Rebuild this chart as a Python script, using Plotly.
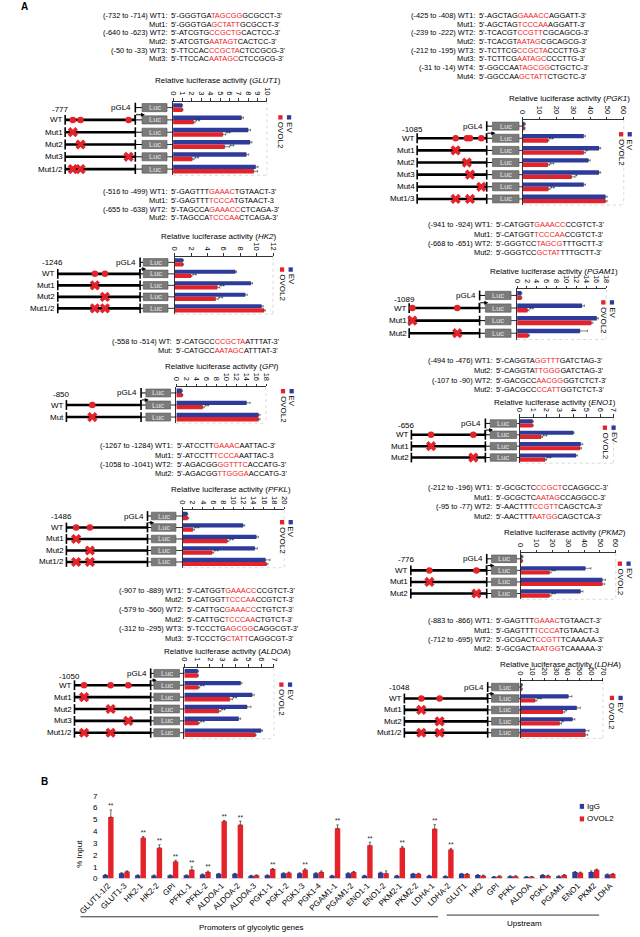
import plotly.graph_objects as go

W, H = 640, 937
BLUE = '#2D3B9B'
RED = '#E4222A'
SEQRED = '#EE1C25'
FONT = 'Liberation Sans, Arial, Helvetica, sans-serif'

# ======================= Panel A data =======================
glut1_rows = ['pGL4', 'WT', 'Mut1', 'Mut2', 'Mut3', 'Mut1/2']
glut1_ev = [0.95, 7.3, 8.0, 8.2, 7.8, 8.8]
glut1_ev_err = [0.05, 0.2, 0.25, 0.2, 0.25, 0.25]
glut1_ovol2 = [1.0, 2.2, 5.3, 5.5, 2.05, 8.6]
glut1_ovol2_err = [0.05, 0.15, 0.3, 0.5, 0.2, 0.4]
glut1_sig = ['', '**', '**', '**', '**', '']
glut1_length = 777
glut1_sites = [-692, -607, -75]
glut1_mut_sites = [[], [], [0], [1], [2], [0, 1]]
glut1_seq_labels = ['(-732 to -714) WT1:', 'Mut1:', '(-640 to -623) WT2:', 'Mut2:', '(-50 to -33) WT3:', 'Mut3:']
glut1_seqs = ["5'-GGGTGA[TAGCGG]GCGCCT-3'", "5'-GGGTGA[GCTATT]GCGCCT-3'",
              "5'-ATCGTG[CCGCTG]CACTCC-3'", "5'-ATCGTG[AATAGT]CACTCC-3'",
              "5'-TTCCAC[CCGCTA]CTCCGCG-3'", "5'-TTCCAC[AATAGC]CTCCGCG-3'"]

hk2_rows = ['pGL4', 'WT', 'Mut1', 'Mut2', 'Mut1/2']
hk2_ev = [1.0, 7.4, 9.3, 8.6, 10.6]
hk2_ev_err = [0.05, 0.15, 0.2, 0.25, 0.2]
hk2_ovol2 = [1.0, 2.0, 5.2, 5.0, 10.9]
hk2_ovol2_err = [0.05, 0.1, 0.3, 0.3, 0.15]
hk2_sig = ['', '**', '**', '**', '']
hk2_length = 1246
hk2_sites = [-685, -532]
hk2_mut_sites = [[], [], [0], [1], [0, 1]]
hk2_seq_labels = ['(-516 to -499) WT1:', 'Mut1:', '(-655 to -638) WT2:', 'Mut2:']
hk2_seqs = ["5'-GAGTTT[GAAAC]TGTAACT-3'", "5'-GAGTTT[TCCCA]TGTAACT-3",
            "5'-TAGCCA[GAAACC]CTCAGA-3'", "5'-TAGCCA[TCCCAA]CTCAGA-3'"]

gpi_rows = ['pGL4', 'WT', 'Mut']
gpi_ev = [1.1, 14.1, 16.5]
gpi_ev_err = [0.1, 0.7, 0.3]
gpi_ovol2 = [1.2, 5.3, 16.5]
gpi_ovol2_err = [0.1, 0.3, 0.3]
gpi_sig = ['', '**', '']
gpi_length = 850
gpi_sites = [-555]
gpi_mut_sites = [[], [], [0]]
gpi_seq_labels = ['(-558 to -514) WT:', 'Mut:']
gpi_seqs = ["5'-CATGCC[CCGCTA]ATTTAT-3'", "5'-CATGCC[AATAGC]ATTTAT-3'"]

pfkl_rows = ['pGL4', 'WT', 'Mut1', 'Mut2', 'Mut1/2']
pfkl_ev = [0.9, 11.9, 14.5, 14.2, 16.3]
pfkl_ev_err = [0.1, 0.3, 0.4, 0.5, 0.9]
pfkl_ovol2 = [1.0, 2.0, 8.8, 5.8, 16.5]
pfkl_ovol2_err = [0.2, 0.3, 0.3, 0.3, 0.3]
pfkl_sig = ['', '**', '**', '**', '']
pfkl_length = 1486
pfkl_sites = [-1308, -1056]
pfkl_mut_sites = [[], [], [0], [1], [0, 1]]
pfkl_seq_labels = ['(-1267 to -1284) WT1:', 'Mut1:', '(-1058 to -1041) WT2:', 'Mut2:']
pfkl_seqs = ["5'-ATCCTT[GAAAC]AATTAC-3'", "5'-ATCCTT[TCCCA]AATTAC-3",
             "5'-AGACGG[GGTTTC]ACCATG-3'", "5'-AGACGG[TTGGGA]ACCATG-3'"]

aldoa_rows = ['pGL4', 'WT', 'Mut1', 'Mut2', 'Mut3', 'Mut1/2']
aldoa_ev = [1.05, 4.4, 5.3, 4.9, 4.25, 6.0]
aldoa_ev_err = [0.05, 0.1, 0.15, 0.3, 0.15, 0.1]
aldoa_ovol2 = [1.05, 1.1, 3.55, 2.7, 1.1, 5.55]
aldoa_ovol2_err = [0.05, 0.1, 0.2, 0.15, 0.1, 0.05]
aldoa_sig = ['', '**', '**', '**', '**', '']
aldoa_length = 1050
aldoa_sites = [-918, -552, -309]
aldoa_mut_sites = [[], [], [0], [1], [2], [0, 1]]
aldoa_seq_labels = ['(-907 to -889) WT1:', 'Mut2:', '(-579 to -560) WT2:', 'Mut2:', '(-312 to -295) WT3:', 'Mut3:']
aldoa_seqs = ["5'-CATGGT[GAAACC]CCGTCT-3'", "5'-CATGGT[TCCCAA]CCGTCT-3'",
              "5'-CATTGC[GAAACC]CTGTCT-3'", "5'-CATTGC[TCCCAA]CTGTCT-3'",
              "5'-TCCCTG[AGCGG]CAGGCGT-3'", "5'-TCCCTG[CTATT]CAGGCGT-3'"]

pgk1_rows = ['pGL4', 'WT', 'Mut1', 'Mut2', 'Mut3', 'Mut4', 'Mut1/3']
pgk1_ev = [1.0, 36.2, 45.3, 39.0, 45.3, 36.2, 49.1]
pgk1_ev_err = [0.5, 1.0, 1.0, 1.0, 1.0, 1.0, 1.0]
pgk1_ovol2 = [1.0, 14.9, 36.2, 14.9, 29.0, 15.2, 49.1]
pgk1_ovol2_err = [0.3, 0.5, 1.0, 1.0, 2.0, 1.0, 1.0]
pgk1_sig = ['', '**', '*', '**', '*', '**', '']
pgk1_length = 1085
pgk1_sites = [-485, -310, -261, -85]
pgk1_mut_sites = [[], [], [0], [1], [2], [3], [0, 2]]
pgk1_seq_labels = ['(-425 to -408) WT1:', 'Mut1:', '(-239 to -222) WT2:', 'Mut2:',
                   '(-212 to -195) WT3:', 'Mut3:', '(-31 to -14) WT4:', 'Mut4:']
pgk1_seqs = ["5'-AGCTAG[GAAACC]AGGATT-3'", "5'-AGCTAG[TCCCAA]AGGATT-3'",
             "5'-TCACGT[CCGTT]CGCAGCG-3'", "5'-TCACGT[AATAG]CGCAGCG-3'",
             "5'-TCTTCG[CCGCTA]CCCTTG-3'", "5'-TCTTCG[AATAGC]CCCTTG-3'",
             "5'-GGCCAA[TAGCGG]CTGCTC-3'", "5'-GGCCAA[GCTATT]CTGCTC-3'"]

pgam1_rows = ['pGL4', 'WT', 'Mut1', 'Mut2']
pgam1_ev = [0.85, 13.1, 16.1, 12.7]
pgam1_ev_err = [0.1, 0.5, 0.3, 1.5]
pgam1_ovol2 = [0.85, 2.1, 15.0, 2.3]
pgam1_ovol2_err = [0.1, 0.3, 0.3, 0.2]
pgam1_sig = ['', '**', '', '']
pgam1_length = 1089
pgam1_sites = [-1040, -346]
pgam1_mut_sites = [[], [], [0], [1]]
pgam1_seq_labels = ['(-941 to -924) WT1:', 'Mut1:', '(-668 to -651) WT2:', 'Mut2:']
pgam1_seqs = ["5'-CATGGT[GAAACC]CCGTCT-3'", "5'-CATGGT[TCCCAA]CCGTCT-3'",
              "5'-GGGTCC[TAGCG]TTTGCTT-3'", "5'-GGGTCC[GCTAT]TTTGCTT-3'"]

eno1_rows = ['pGL4', 'WT', 'Mut1', 'Mut2']
eno1_ev = [0.96, 4.0, 4.55, 4.2]
eno1_ev_err = [0.05, 0.05, 0.15, 0.1]
eno1_ovol2 = [0.96, 1.6, 4.5, 1.9]
eno1_ovol2_err = [0.05, 0.1, 0.1, 0.1]
eno1_sig = ['', '**', '', '**']
eno1_length = 656
eno1_sites = [-482, -107]
eno1_mut_sites = [[], [], [0], [1]]
eno1_seq_labels = ['(-494 to -476) WT1:', 'Mut2:', '(-107 to -90) WT2:', 'Mut2:']
eno1_seqs = ["5'-CAGGTA[GGTTT]GATCTAG-3'", "5'-CAGGTA[TTGGG]GATCTAG-3'",
             "5'-GACGCC[AACGG]GGTCTCT-3'", "5'-GACGCC[CCATT]GGTCTCT-3'"]

pkm2_rows = ['pGL4', 'WT', 'Mut1', 'Mut2']
pkm2_ev = [1.0, 40.8, 51.5, 37.8]
pkm2_ev_err = [0.5, 3.5, 2.0, 1.5]
pkm2_ovol2 = [1.0, 18.2, 51.5, 18.2]
pkm2_ovol2_err = [0.3, 1.0, 1.5, 1.0]
pkm2_sig = ['', '**', '', '**']
pkm2_length = 776
pkm2_sites = [-586, -105]
pkm2_mut_sites = [[], [], [0], [1]]
pkm2_seq_labels = ['(-212 to -196) WT1:', 'Mut1:', '(-95 to -77) WT2:', 'Mut2:']
pkm2_seqs = ["5'-GCGCTC[CCGCT]CCAGGCC-3'", "5'-GCGCTC[AATAG]CCAGGCC-3'",
             "5'-AACTTT[CCGTT]CAGCTCA-3'", "5'-AACTTT[AATGG]CAGCTCA-3'"]

ldha_rows = ['pGL4', 'WT', 'Mut1', 'Mut2', 'Mut1/2']
ldha_ev = [1.0, 40.6, 47.7, 44.1, 55.0]
ldha_ev_err = [0.5, 3.0, 3.0, 2.0, 3.0]
ldha_ovol2 = [1.0, 12.3, 36.0, 33.2, 55.0]
ldha_ovol2_err = [0.3, 1.5, 1.5, 1.5, 2.0]
ldha_sig = ['', '**', '*', '*', '']
ldha_length = 1048
ldha_sites = [-835, -605]
ldha_mut_sites = [[], [], [0], [1], [0, 1]]
ldha_seq_labels = ['(-883 to -866) WT1:', 'Mut1:', '(-712 to -695) WT2:', 'Mut2:']
ldha_seqs = ["5'-GAGTTT[GAAAC]TGTAACT-3'", "5'-GAGTTT[TCCCA]TGTAACT-3",
             "5'-GCGACT[CCGTT]TCAAAAA-3'", "5'-GCGACT[AATGG]TCAAAAA-3'"]

# axis scales of each luciferase chart (max, tick step)
gene_names = ['GLUT1', 'HK2', 'GPI', 'PFKL', 'ALDOA', 'PGK1', 'PGAM1', 'ENO1', 'PKM2', 'LDHA']
axis_max = [10, 12, 18, 20, 7, 60, 18, 7, 60, 70]
axis_step = [1, 2, 2, 2, 1, 10, 2, 1, 10, 10]

# ======================= Panel B data =======================
b_categories = ['GLUT1-1/2', 'GLUT1-3', 'HK2-1', 'HK2-2', 'GPI', 'PFKL-1', 'PFKL-2',
                'ALDOA-1', 'ALDOA-2', 'ALDOA-3', 'PGK1-1', 'PGK1-2', 'PGK1-3', 'PGK1-4',
                'PGAM1-1', 'PGAM1-2', 'ENO1-1', 'ENO1-2', 'PKM2-1', 'PKM2-2', 'LDHA-1', 'LDHA-2',
                'GLUT1', 'HK2', 'GPI', 'PFKL', 'ALDOA', 'PGK1', 'PGAM1', 'ENO1', 'PKM2', 'LDHA']
b_igg = [0.3, 0.45, 0.28, 0.27, 0.28, 0.28, 0.35, 0.4, 0.4, 0.25, 0.28, 0.45, 0.45, 0.45,
         0.25, 0.45, 0.25, 0.5, 0.25, 0.4, 0.25, 0.2,
         0.4, 0.3, 0.15, 0.2, 0.15, 0.3, 0.2, 0.55, 0.55, 0.35]
b_igg_err = [0.05, 0.04, 0.03, 0.03, 0.03, 0.03, 0.04, 0.04, 0.04, 0.03, 0.03, 0.04, 0.04, 0.04,
             0.03, 0.04, 0.03, 0.05, 0.03, 0.04, 0.03, 0.03,
             0.04, 0.03, 0.03, 0.03, 0.02, 0.03, 0.03, 0.05, 0.1, 0.04]
b_ovol2 = [5.2, 0.6, 3.45, 2.6, 1.45, 0.75, 0.55, 4.85, 4.55, 0.28, 0.8, 0.5, 0.75, 0.55,
           4.25, 0.55, 2.82, 0.45, 2.6, 0.4, 4.2, 2.45,
           0.38, 0.25, 0.2, 0.2, 0.15, 0.25, 0.3, 0.5, 0.75, 0.38]
b_ovol2_err = [0.6, 0.05, 0.1, 0.25, 0.1, 0.25, 0.08, 0.05, 0.3, 0.03, 0.05, 0.05, 0.08, 0.1,
               0.28, 0.05, 0.25, 0.2, 0.12, 0.05, 0.35, 0.1,
               0.05, 0.04, 0.04, 0.04, 0.03, 0.04, 0.05, 0.05, 0.05, 0.05]
b_sig = ['**', '', '**', '**', '**', '**', '**', '**', '**', '', '**', '', '**', '',
         '**', '', '**', '', '**', '', '**', '**',
         '', '', '', '', '', '', '', '', '', '']
b_group_labels = ['Promoters of glycolytic genes', 'Upstream']

# ======================= layout (pixel positions) =======================
panel_layout = [
    dict(top=102, last=170, prom=(47, 120), luc=(127, 153), bar=(159.3, 257), title=(206.5, 81),
         seq_x=156, seq_y0=15.7, seq_dy=8.72, leg=(280, 118), len_dy=0.15),
    dict(top=258, last=310, prom=(39.3, 125), luc=(128.3, 154), bar=(161, 263.3), title=(207, 237.7),
         seq_x=156, seq_y0=192.7, seq_dy=8.75, leg=(281.7, 271), len_dy=0.0),
    dict(top=389, last=419.3, prom=(48.3, 126), luc=(131, 156.7), bar=(162.7, 256), title=(210, 368.3),
         seq_x=161, seq_y0=343, seq_dy=9.3, leg=(282.7, 393.3), len_dy=0.15),
    dict(top=513, last=565, prom=(48.3, 132.7), luc=(136.7, 162.3), bar=(169.3, 275), title=(220, 492.3),
         seq_x=162, seq_y0=448.3, seq_dy=9.2, leg=(281.7, 525), len_dy=0.0),
    dict(top=671, last=736.7, prom=(56.7, 136), luc=(139.3, 166), bar=(171, 264.3), title=(216.3, 655),
         seq_x=172.5, seq_y0=593.5, seq_dy=9.7, leg=(281, 688.3), len_dy=0.3),
    dict(top=120.7, last=200, prom=(413.3, 485.7), luc=(491.7, 519.3), bar=(523.3, 628.3), title=(571.8, 99),
         seq_x=476, seq_y0=15.7, seq_dy=8.72, leg=(634.5, 135), len_dy=0.3),
    dict(top=290.7, last=335, prom=(405, 478.3), luc=(484.3, 511), bar=(517.3, 610), title=(555.5, 273.3),
         seq_x=493.5, seq_y0=226, seq_dy=9.3, leg=(616, 304), len_dy=0.35),
    dict(top=420, last=460, prom=(407.3, 484.3), luc=(489.3, 516.7), bar=(520, 617.7), title=(556.8, 404.3),
         seq_x=493.5, seq_y0=362.7, seq_dy=9.7, leg=(617.7, 430), len_dy=0.2),
    dict(top=556, last=596.7, prom=(406.7, 485.7), luc=(490.7, 516.7), bar=(521, 620), title=(567.5, 535.7),
         seq_x=493.5, seq_y0=490.5, seq_dy=9.5, leg=(633.3, 566.7), len_dy=0.1),
    dict(top=685, last=736.7, prom=(400, 486.7), luc=(490.7, 519.3), bar=(521, 606.7), title=(562.5, 667.7),
         seq_x=493.5, seq_y0=624, seq_dy=9.4, leg=(625, 701.7), len_dy=0.0),
]

panels_data = []
for g in ['glut1', 'hk2', 'gpi', 'pfkl', 'aldoa', 'pgk1', 'pgam1', 'eno1', 'pkm2', 'ldha']:
    G = globals()
    panels_data.append(dict(
        rows=G[g + '_rows'], ev=G[g + '_ev'], ev_err=G[g + '_ev_err'],
        ov=G[g + '_ovol2'], ov_err=G[g + '_ovol2_err'], sig=G[g + '_sig'],
        length=G[g + '_length'], sites=G[g + '_sites'], mut=G[g + '_mut_sites'],
        seq_labels=G[g + '_seq_labels'], seqs=G[g + '_seqs']))


def px(v):
    return v / W


def py(v):
    return 1 - v / H


def colorize(s):
    return s.replace('[', "<span style='color:%s'>" % SEQRED).replace(']', '</span>')


fig = go.Figure()
annotations = []
shapes = []
axes = {}


def ann(x, y, text, xref='paper', yref='paper', size=7.5, color='black', xanchor='center',
        yanchor='middle', angle=0):
    annotations.append(dict(x=x, y=y, xref=xref, yref=yref, text=text, showarrow=False,
                            font=dict(size=size, color=color, family=FONT),
                            xanchor=xanchor, yanchor=yanchor, textangle=angle, borderpad=0))


BW = 0.36
for i, (d, c) in enumerate(zip(panels_data, panel_layout)):
    xb, xs, yy = 'x%d' % (2 * i + 1), 'x%d' % (2 * i + 2), 'y%d' % (i + 1)
    rows = d['rows']
    n = len(rows)
    idx = list(range(n))
    sp = (c['last'] - c['top']) / (n - 0.5)
    ybot = c['last'] + 0.5 * sp

    axes['xaxis%d' % (2 * i + 1)] = dict(
        domain=[px(c['bar'][0]), px(c['bar'][1])], range=[0, axis_max[i]], dtick=axis_step[i],
        side='top', anchor=yy, showline=True, linecolor='black', linewidth=0.8,
        ticks='outside', ticklen=2.5, tickwidth=0.8, tickcolor='black', tickangle=90,
        tickfont=dict(size=7.5, family=FONT, color='black'), showgrid=False, zeroline=False,
        fixedrange=True)
    axes['xaxis%d' % (2 * i + 2)] = dict(
        domain=[px(c['prom'][0]), px(c['prom'][1])], range=[-d['length'], 0], anchor=yy,
        visible=False, fixedrange=True)
    axes['yaxis%d' % (i + 1)] = dict(
        domain=[py(ybot), py(c['top'])], range=[n - 0.5, -0.5], anchor=xb, showline=True,
        linecolor='black', linewidth=0.8, showticklabels=False, ticks='', showgrid=False,
        zeroline=False, fixedrange=True)

    # bars
    fig.add_trace(go.Bar(x=d['ev'], y=idx, orientation='h', xaxis=xb, yaxis=yy, width=BW, offset=-BW,
                         marker=dict(color=BLUE, line=dict(width=0)), showlegend=False, hoverinfo='skip',
                         error_x=dict(type='data', array=d['ev_err'], arrayminus=[0] * n, symmetric=False,
                                      color='#333', thickness=0.6, width=1.2)))
    fig.add_trace(go.Bar(x=d['ov'], y=idx, orientation='h', xaxis=xb, yaxis=yy, width=BW, offset=0,
                         marker=dict(color=RED, line=dict(width=0)), showlegend=False, hoverinfo='skip',
                         error_x=dict(type='data', array=d['ov_err'], arrayminus=[0] * n, symmetric=False,
                                      color='#333', thickness=0.6, width=1.2)))
    sx = [o + e for o, e, s in zip(d['ov'], d['ov_err'], d['sig']) if s]
    sy = [r + 0.2 for r, s in zip(idx, d['sig']) if s]
    st = [s for s in d['sig'] if s]
    fig.add_trace(go.Scatter(x=sx, y=sy, mode='text', text=st, textposition='middle right',
                             textfont=dict(size=6.5, color='#222', family=FONT), xaxis=xb, yaxis=yy,
                             cliponaxis=False, showlegend=False, hoverinfo='skip'))
    # faint dotted plot border (right & bottom)
    shapes.append(dict(type='line', xref='paper', yref='paper', x0=px(c['bar'][1]), x1=px(c['bar'][1]),
                       y0=py(c['top']), y1=py(ybot), line=dict(color='#c8c8c8', width=0.7, dash='dot')))
    shapes.append(dict(type='line', xref='paper', yref='paper', x0=px(c['bar'][0]), x1=px(c['bar'][1]),
                       y0=py(ybot), y1=py(ybot), line=dict(color='#c8c8c8', width=0.7, dash='dot')))

    # promoter schematic
    L = d['length']
    lx, ly = [], []
    for r in idx[1:]:
        lx += [-L, 0, None]
        ly += [r, r, None]
    fig.add_trace(go.Scatter(x=lx, y=ly, mode='lines', line=dict(color='black', width=2.6),
                             xaxis=xs, yaxis=yy, cliponaxis=False, showlegend=False, hoverinfo='skip'))
    tx = [-L for r in idx[1:]] + [0 for r in idx]
    ty = [r for r in idx[1:]] + [r for r in idx]
    fig.add_trace(go.Scatter(x=tx, y=ty, mode='markers',
                             marker=dict(symbol='line-ns', size=7, line=dict(color='black', width=1.6)),
                             xaxis=xs, yaxis=yy, cliponaxis=False, showlegend=False, hoverinfo='skip'))
    # binding sites (WT) and mutated sites
    fig.add_trace(go.Scatter(x=d['sites'], y=[1] * len(d['sites']), mode='markers',
                             marker=dict(symbol='circle', size=6.5, color=RED, line=dict(width=0)),
                             xaxis=xs, yaxis=yy, cliponaxis=False, showlegend=False, hoverinfo='skip'))
    mx, my = [], []
    for r, ms in zip(idx, d['mut']):
        for k in ms:
            mx.append(d['sites'][k])
            my.append(r)
    fig.add_trace(go.Scatter(x=mx, y=my, mode='markers',
                             marker=dict(symbol='x', size=9, color=RED, line=dict(width=0)),
                             xaxis=xs, yaxis=yy, cliponaxis=False, showlegend=False, hoverinfo='skip'))

    # connectors, Luc boxes
    for r in idx:
        shapes.append(dict(type='line', xref='paper', yref=yy, x0=px(c['prom'][1]), x1=px(c['luc'][0]),
                           y0=r, y1=r, line=dict(color='black', width=1)))
        shapes.append(dict(type='line', xref='paper', yref=yy, x0=px(c['luc'][1]), x1=px(c['bar'][0]),
                           y0=r, y1=r, line=dict(color='black', width=0.8)))
        shapes.append(dict(type='rect', xref='paper', yref=yy, x0=px(c['luc'][0]), x1=px(c['luc'][1]),
                           y0=r - 0.33, y1=r + 0.33, fillcolor='#7b7b7b', line=dict(color='#505050', width=0.6)))
        ann(px((c['luc'][0] + c['luc'][1]) / 2), r, 'Luc', yref=yy, size=7.5, color='#e2e2e2')
        if r == 0:
            ann(px(c['prom'][1] - 3), r, rows[r], yref=yy, size=8, xanchor='right')
        else:
            ann(px(c['prom'][0] - 1.5), r, rows[r], yref=yy, size=8, xanchor='right')
    # TSS arrow on the WT row
    shapes.append(dict(type='line', xref='paper', yref=yy, x0=px(c['prom'][1] - 0.5), x1=px(c['prom'][1] - 0.5),
                       y0=1, y1=1 - 0.42, line=dict(color='black', width=1)))
    annotations.append(dict(x=px(c['luc'][0] + 3), y=1 - 0.42, xref='paper', yref=yy, text='',
                            showarrow=True, ax=-(c['luc'][0] + 3.5 - c['prom'][1]), ay=0, axref='pixel',
                            ayref='pixel', arrowhead=2, arrowsize=0.8, arrowwidth=1, arrowcolor='black'))
    # promoter length label
    ann(px(c['prom'][0] - 5), 0 + c['len_dy'], '-%d' % L, yref=yy, size=8)

    # title
    ann(px(c['title'][0]), py(c['title'][1]),
        'Relative luciferase activity (<i>%s</i>)' % gene_names[i], size=8)

    # rotated legend
    bx, by = c['leg']
    for cx, col, lab in [(bx, BLUE, 'EV'), (bx - 9, RED, 'OVOL2')]:
        shapes.append(dict(type='rect', xref='paper', yref='paper', x0=px(cx - 2.2), x1=px(cx + 2.2),
                           y0=py(by + 2.2), y1=py(by - 2.2), fillcolor=col, line=dict(width=0)))
        ann(px(cx + 0.3), py(by + 3.6), lab, size=8, yanchor='top', angle=90)

    # sequences
    for j, (lab, s) in enumerate(zip(d['seq_labels'], d['seqs'])):
        yv = py(c['seq_y0'] + j * c['seq_dy'])
        ann(px(c['seq_x'] - 1.5), yv, lab, size=7.4, xanchor='right')
        ann(px(c['seq_x'] + 0.5), yv, colorize(s), size=7.4, xanchor='left')

# panel letters
ann(px(4.5), py(7), '<b>A</b>', size=10)
ann(px(25), py(785.5), '<b>B</b>', size=10)

# ======================= Panel B =======================
bi = list(range(len(b_categories)))
BWB = 0.335
fig.add_trace(go.Bar(x=bi, y=b_igg, xaxis='x21', yaxis='y11', width=BWB, offset=-BWB,
                     marker=dict(color=BLUE, line=dict(width=0)), showlegend=False, hoverinfo='skip',
                     error_y=dict(type='data', array=b_igg_err, arrayminus=[0] * len(bi), symmetric=False,
                                  color='#333', thickness=0.7, width=1.2)))
fig.add_trace(go.Bar(x=bi, y=b_ovol2, xaxis='x21', yaxis='y11', width=BWB, offset=0,
                     marker=dict(color=RED, line=dict(width=0)), showlegend=False, hoverinfo='skip',
                     error_y=dict(type='data', array=b_ovol2_err, arrayminus=[0] * len(bi), symmetric=False,
                                  color='#333', thickness=0.7, width=1.2)))
bsx = [k + BWB / 2 for k, s in zip(bi, b_sig) if s]
bsy = [v + e for v, e, s in zip(b_ovol2, b_ovol2_err, b_sig) if s]
fig.add_trace(go.Scatter(x=bsx, y=bsy, mode='text', text=[s for s in b_sig if s], textposition='top center',
                         textfont=dict(size=6.5, color='#222', family=FONT), xaxis='x21', yaxis='y11',
                         cliponaxis=False, showlegend=False, hoverinfo='skip'))
axes['xaxis21'] = dict(domain=[px(81.6), px(624.2)], range=[-0.6, len(bi) - 0.4], anchor='y11',
                       tickmode='array', tickvals=bi, ticktext=b_categories, tickangle=-45,
                       tickfont=dict(size=8, family=FONT, color='black'), ticks='', showline=False,
                       showgrid=False, zeroline=False, fixedrange=True)
axes['yaxis11'] = dict(domain=[py(883.3), py(795.2)], range=[0, 7.4], dtick=1, anchor='x21',
                       tickfont=dict(size=8, family=FONT, color='black'), ticks='', showline=False,
                       showgrid=False, zeroline=False, fixedrange=True)
shapes.append(dict(type='line', xref='paper', yref='y11', x0=px(80), x1=px(622), y0=0, y1=0,
                   line=dict(color='#b0b0b0', width=0.8, dash='dot')))
ann(px(61.7), py(858), '% Input', size=8, angle=-90)
shapes.append(dict(type='line', xref='paper', yref='paper', x0=px(63), x1=px(435), y0=py(921.7), y1=py(921.7),
                   line=dict(color='#333', width=1)))
shapes.append(dict(type='line', xref='paper', yref='paper', x0=px(444), x1=px(602.7), y0=py(920), y1=py(920),
                   line=dict(color='#333', width=1)))
ann(px(241), py(932), b_group_labels[0], size=8)
ann(px(525), py(928.5), b_group_labels[1], size=8)
for cy, col, lab in [(810.7, BLUE, 'IgG'), (823.3, RED, 'OVOL2')]:
    shapes.append(dict(type='rect', xref='paper', yref='paper', x0=px(582.5), x1=px(587), y0=py(cy + 2.5),
                       y1=py(cy - 2.5), fillcolor=col, line=dict(width=0)))
    ann(px(589), py(cy), lab, size=8, xanchor='left')

fig.update_layout(width=W, height=H, autosize=False, margin=dict(l=0, r=0, t=0, b=0),
                  paper_bgcolor='white', plot_bgcolor='rgba(0,0,0,0)', barmode='overlay',
                  font=dict(family=FONT, size=8, color='black'), showlegend=False,
                  annotations=annotations, shapes=shapes, **axes)
fig.write_html('out.html', config={'displayModeBar': False, 'staticPlot': True},
               post_script="document.body.style.margin='0px';document.body.style.padding='0px';")
